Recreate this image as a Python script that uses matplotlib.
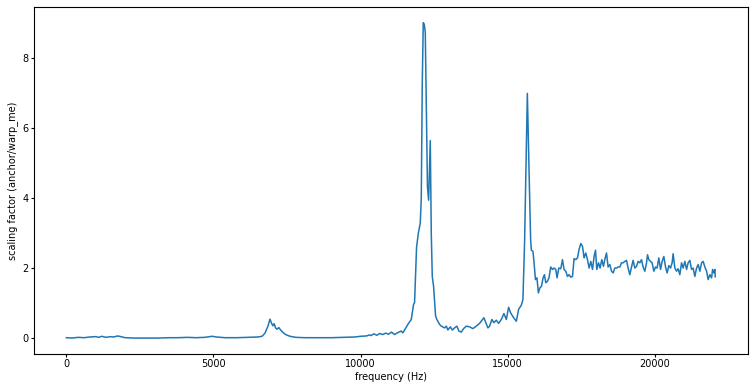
import matplotlib
matplotlib.use("Agg")
import matplotlib.pyplot as plt

freq_hz = [
    0, 200, 400, 600, 800, 1000, 1100, 1200, 1350, 1500, 1600, 1750, 1850, 2000,
    2300, 2700, 3100, 3500, 3800, 4100, 4400, 4700, 4950, 5100, 5400, 5800, 6200,
    6500, 6650, 6750, 6850, 6920, 6980, 7020, 7060, 7110, 7160, 7220, 7280, 7350,
    7450, 7600, 7800, 8100, 8500, 9000, 9400, 9800, 10000, 10200, 10300, 10350,
    10450, 10550, 10650, 10750, 10850, 10950, 11050, 11150, 11250, 11380, 11435,
    11520, 11605, 11720, 11798, 11832, 11900, 11960, 12026, 12060, 12094, 12128,
    12160, 12196, 12230, 12270, 12310, 12342, 12366, 12400, 12434, 12478, 12546,
    12590, 12682, 12740, 12852, 12910, 12965, 13046, 13114, 13192, 13270, 13338,
    13420, 13498, 13590, 13702, 13814, 13930, 14042, 14188, 14324, 14382, 14460,
    14528, 14610, 14688, 14780, 14868, 14950, 15028, 15096, 15198, 15290, 15368,
    15460, 15514, 15572, 15630, 15664, 15698, 15742, 15776, 15800, 15854, 15888,
    15940, 15990, 16040, 16087, 16145, 16199, 16245, 16290, 16345, 16400, 16458,
    16515, 16570, 16630, 16674, 16732, 16800, 16858, 16912, 16970, 17028, 17082,
    17140, 17198, 17252, 17310, 17368, 17422, 17480, 17538, 17592, 17650, 17708,
    17762, 17820, 17878, 17932, 17980, 18024, 18082, 18136, 18194, 18252, 18296,
    18354, 18408, 18466, 18524, 18578, 18636, 18694, 18748, 18806, 18864, 18918,
    18976, 19034, 19088, 19146, 19204, 19258, 19316, 19374, 19428, 19486, 19544,
    19598, 19656, 19714, 19748, 19792, 19850, 19904, 19962, 20020, 20074, 20132,
    20190, 20244, 20302, 20360, 20414, 20472, 20530, 20584, 20618, 20676, 20734,
    20788, 20846, 20904, 20958, 21016, 21074, 21128, 21186, 21244, 21298, 21356,
    21414, 21468, 21526, 21584, 21638, 21696, 21754, 21808, 21866, 21924, 21958,
    22002, 22036, 22050,
]

scaling_factor = [
    0.02, 0.01, 0.03, 0.02, 0.04, 0.05, 0.03, 0.06, 0.03, 0.05, 0.04, 0.07, 0.05, 0.02,
    0.01, 0.01, 0.01, 0.02, 0.02, 0.03, 0.02, 0.03, 0.06, 0.04, 0.02, 0.02, 0.03,
    0.04, 0.06, 0.15, 0.35, 0.55, 0.42, 0.36, 0.42, 0.30, 0.26, 0.31, 0.24, 0.18,
    0.11, 0.06, 0.03, 0.02, 0.02, 0.02, 0.03, 0.04, 0.06, 0.07, 0.10, 0.08,
    0.13, 0.09, 0.14, 0.11, 0.15, 0.12, 0.18, 0.11, 0.16, 0.21, 0.16,
    0.28, 0.40, 0.54, 0.97, 1.02, 2.60, 3.00, 3.30, 4.00, 7.28, 9.02,
    8.98, 8.75, 6.80, 4.34, 3.95, 4.90, 5.65, 3.00, 1.77, 1.49, 0.64,
    0.54, 0.40, 0.35, 0.30, 0.35, 0.24, 0.33, 0.24, 0.30, 0.35, 0.21,
    0.18, 0.28, 0.35, 0.33, 0.28, 0.35, 0.43, 0.59, 0.30, 0.35, 0.54,
    0.45, 0.52, 0.43, 0.54, 0.71, 0.54, 0.89, 0.73, 0.59, 0.49, 0.83,
    0.95, 1.11, 2.80, 5.48, 7.00, 5.67, 4.05, 2.82, 2.52, 2.49, 2.20,
    1.68, 1.73, 1.30, 1.44, 1.49, 1.73, 1.82, 1.59, 1.63, 1.73, 2.04,
    1.97, 2.01, 1.97, 1.73, 2.01, 1.99, 2.25, 1.97, 1.92, 1.77, 1.82,
    1.75, 1.77, 2.28, 2.25, 2.30, 2.54, 2.71, 2.63, 2.30, 2.44, 2.25,
    2.01, 2.20, 1.97, 2.34, 2.52, 1.97, 2.16, 2.01, 2.25, 2.06, 2.25,
    2.44, 2.04, 2.11, 1.92, 1.87, 2.01, 2.01, 2.04, 2.04, 2.16, 2.16,
    2.20, 2.23, 2.01, 1.82, 2.04, 2.23, 2.01, 2.06, 2.20, 2.16, 2.25,
    2.04, 1.92, 2.16, 2.39, 2.25, 2.20, 2.16, 1.92, 2.04, 2.01, 2.30,
    1.97, 2.20, 2.34, 2.04, 1.87, 2.08, 2.01, 2.16, 2.42, 2.01, 1.92,
    1.99, 1.82, 2.16, 2.01, 2.20, 1.97, 2.16, 2.23, 1.97, 2.01, 1.77,
    2.01, 2.11, 1.92, 2.16, 2.20, 2.04, 1.92, 1.68, 1.82, 1.73, 1.97,
    1.87, 1.97, 1.76,
]

x_label = "frequency (Hz)"
y_label = "scaling factor (anchor/warp_me)"

fig = plt.figure(figsize=(7.53, 3.85), dpi=100)
ax = fig.add_axes([0.045, 0.081, 0.948, 0.901])
ax.plot(freq_hz, scaling_factor, color="#1f77b4", linewidth=1.1)
ax.set_xlabel(x_label, fontsize=7, labelpad=2)
ax.set_ylabel(y_label, fontsize=7, labelpad=3)
ax.tick_params(labelsize=7, length=2.5, pad=1.5)
fig.savefig("out.png", dpi=100)
